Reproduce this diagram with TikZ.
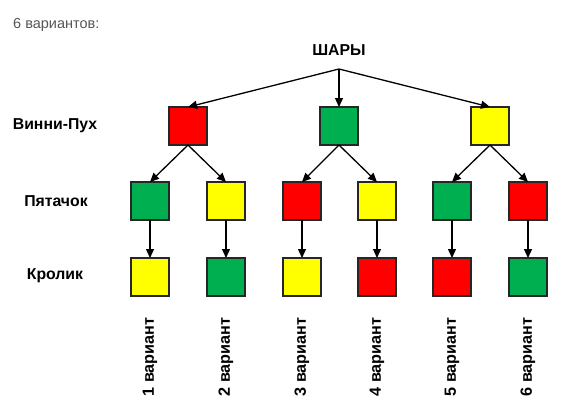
\documentclass[tikz,border=0pt]{standalone}
\usepackage{fontspec}
\setmainfont{Liberation Sans}
\usetikzlibrary{arrows.meta}
\definecolor{bred}{HTML}{FF0000}
\definecolor{bgreen}{HTML}{00B050}
\definecolor{byellow}{HTML}{FFFF00}
\definecolor{txtgray}{HTML}{555555}
\begin{document}
\begin{tikzpicture}[x=1pt,y=-1pt,
  ball/.style={draw=black!85,line width=1.2pt,minimum width=38pt,minimum height=38pt,inner sep=0pt,outer sep=0pt},
  lbl/.style={font=\bfseries\fontsize{15.8}{18}\selectfont,inner sep=0pt},
  var/.style={font=\bfseries\fontsize{16.2}{18}\selectfont,rotate=90,inner sep=0pt},
  arr/.style={-{Triangle[length=9pt,width=8pt]},line width=1.3pt}]
\useasboundingbox (0,0) rectangle (568,413);
\node[anchor=west,text=txtgray,font=\fontsize{14.5}{16}\selectfont,inner sep=0pt] (title) at (13,25) {6 вариантов:};
\node[lbl] (root) at (339,50) {ШАРЫ};
\coordinate (r) at (339,69);
\node[lbl] (l1) at (55,126) {Винни-Пух};
\node[lbl] (l2) at (56,201) {Пятачок};
\node[lbl] (l3) at (55,276) {Кролик};
% level 1
\node[ball,fill=bred] (a) at (188,126) {};
\node[ball,fill=bgreen] (b) at (339,126) {};
\node[ball,fill=byellow] (c) at (490,126) {};
% level 2
\node[ball,fill=bgreen] (a1) at (150,201) {};
\node[ball,fill=byellow] (a2) at (226,201) {};
\node[ball,fill=bred] (b1) at (302,201) {};
\node[ball,fill=byellow] (b2) at (377,201) {};
\node[ball,fill=bgreen] (c1) at (452,201) {};
\node[ball,fill=bred] (c2) at (528,201) {};
% level 3
\node[ball,fill=byellow] (a1x) at (150,277) {};
\node[ball,fill=bgreen] (a2x) at (226,277) {};
\node[ball,fill=byellow] (b1x) at (302,277) {};
\node[ball,fill=bred] (b2x) at (377,277) {};
\node[ball,fill=bred] (c1x) at (452,277) {};
\node[ball,fill=bgreen] (c2x) at (528,277) {};
% arrows
\draw[arr] (r) -- (a.north);
\draw[arr] (r) -- (b.north);
\draw[arr] (r) -- (c.north);
\foreach \p/\q in {a/a1,a/a2,b/b1,b/b2,c/c1,c/c2}{\draw[arr] (\p.south) -- (\q.north);}
\foreach \p in {a1,a2,b1,b2,c1,c2}{\draw[arr] (\p.south) -- (\p x.north);}
% variant labels
\node[var] (v1) at (150,357) {1 вариант};
\node[var] (v2) at (226,357) {2 вариант};
\node[var] (v3) at (302,357) {3 вариант};
\node[var] (v4) at (377,357) {4 вариант};
\node[var] (v5) at (452,357) {5 вариант};
\node[var] (v6) at (528,357) {6 вариант};
\end{tikzpicture}
\end{document}
